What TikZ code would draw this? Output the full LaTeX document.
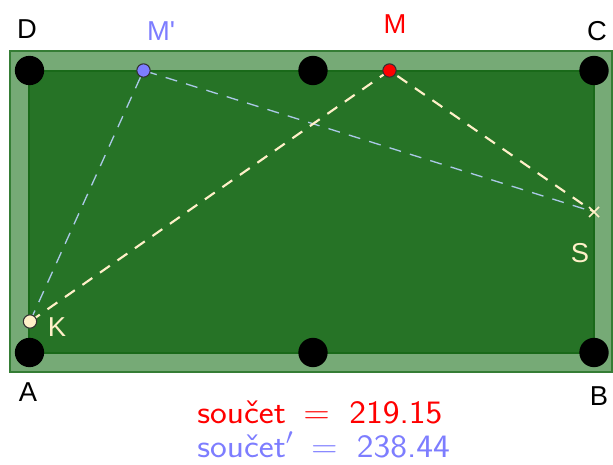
\documentclass[tikz,border=0pt]{standalone}
\usepackage{fontspec}
\usetikzlibrary{calc}
\newfontfamily\lab{Liberation Sans}
\definecolor{feltgreen}{RGB}{38,115,38}
\definecolor{railgreen}{RGB}{118,170,118}
\definecolor{edgegreen}{RGB}{25,105,25}
\definecolor{cream}{RGB}{255,240,200}
\definecolor{lightblue}{RGB}{170,200,230}
\definecolor{mblue}{RGB}{125,125,255}
\tikzset{
  pocket/.style={circle,fill=black,inner sep=0pt,minimum size=22},
  ptlabel/.style={font=\lab\fontsize{20.5}{22}\selectfont,inner sep=0pt},
  pathcream/.style={draw=cream,line width=1.6,dash pattern=on 9 off 7},
  pathblue/.style={draw=lightblue,line width=1,dash pattern=on 9 off 7},
  pt/.style={circle,draw=black!80,line width=0.8,inner sep=0pt,minimum size=10},
  sumtext/.style={font=\sffamily\fontsize{24.5}{26}\selectfont,inner sep=0pt,anchor=base west}
}
\begin{document}
\begin{tikzpicture}[x=0.75pt,y=-0.75pt]
\useasboundingbox (0,0) rectangle (613,464);
\fill[white] (0,0) rectangle (613,464);
\draw[fill=railgreen,draw=edgegreen!70!railgreen,line width=1.5] (10,51) rectangle (612,372);
\draw[fill=feltgreen,draw=edgegreen,line width=1.5] (29,70.5) rectangle (594,352.5);
\node[pocket] (pD) at (29.5,70.5) {};
\node[pocket] (pDC) at (313,70.5) {};
\node[pocket] (pC) at (594,70.5) {};
\node[pocket] (pA) at (29.5,352.5) {};
\node[pocket] (pAB) at (313,352.5) {};
\node[pocket] (pB) at (594,352.5) {};
\coordinate (K) at (30,321.5);
\coordinate (M) at (389.5,70.5);
\coordinate (Mp) at (143.5,70.5);
\coordinate (S) at (594,212);
\draw[pathblue] (K) -- (Mp) -- (S);
\draw[pathcream] (K) -- (M) -- (S);
\node[pt,fill=cream] (Kpt) at (K) {};
\node[pt,fill=red] (Mpt) at (M) {};
\node[pt,fill=mblue] (Mppt) at (Mp) {};
\draw[cream,line width=1.3] ($(S)+(-5,-5)$) -- ($(S)+(5,5)$) ($(S)+(-5,5)$) -- ($(S)+(5,-5)$);
\node[ptlabel] (lD) at (27,29) {D};
\node[ptlabel] (lC) at (597,31) {C};
\node[ptlabel] (lA) at (28,392) {A};
\node[ptlabel] (lB) at (599,396) {B};
\node[ptlabel,text=red] (lM) at (395,24) {M};
\node[ptlabel,text=mblue] (lMp) at (161,31.5) {M'};
\node[ptlabel,text=cream] (lK) at (57,327.5) {K};
\node[ptlabel,text=cream] (lS) at (580,253) {S};
\node[sumtext,text=red] (s1) at (197,423) {\scalebox{1.09}[1]{součet\hspace{0.5em}$=$\hspace{0.55em}219.15}};
\node[sumtext,text=mblue] (s2) at (197,457) {\scalebox{1.09}[1]{součet$'$\hspace{0.5em}$=$\hspace{0.55em}238.44}};
\end{tikzpicture}
\end{document}
